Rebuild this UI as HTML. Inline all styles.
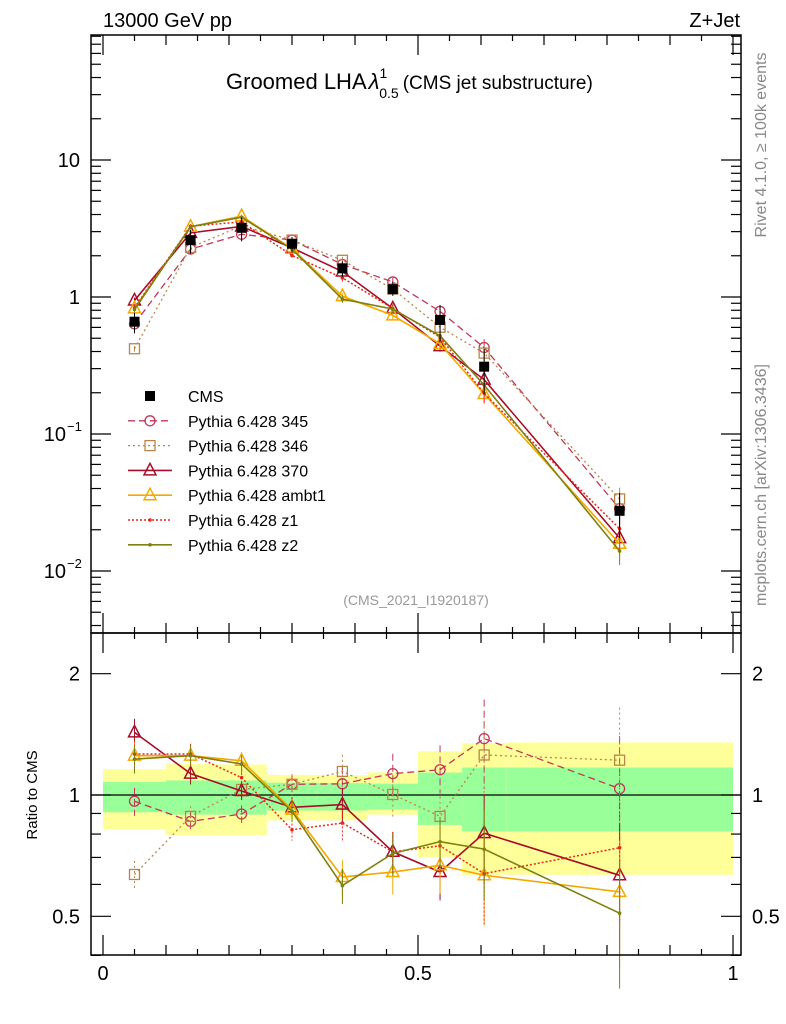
<!DOCTYPE html>
<html><head><meta charset="utf-8"><style>
html,body{margin:0;padding:0;background:#fff;}
svg{display:block;font-family:"Liberation Sans",Arial,sans-serif;}
</style></head><body>
<svg id="chart" width="786" height="1024" viewBox="0 0 786 1024" xmlns="http://www.w3.org/2000/svg">
<text x="103" y="27" font-size="20">13000 GeV pp</text>
<text x="740" y="27" font-size="20" text-anchor="end">Z+Jet</text>
<text x="226" y="89" font-size="22">Groomed LHA<tspan font-style="italic" dx="2">λ</tspan><tspan font-size="14" dy="-11">1</tspan><tspan font-size="14" dx="-8" dy="20">0.5</tspan><tspan font-size="19" dx="4" dy="-9">(CMS jet substructure)</tspan></text>
<text transform="translate(766,145) rotate(-90)" font-size="16" fill="#888" text-anchor="middle">Rivet 4.1.0, ≥ 100k events</text>
<text transform="translate(766,485) rotate(-90)" font-size="16" fill="#888" text-anchor="middle">mcplots.cern.ch [arXiv:1306.3436]</text>
<text x="416" y="605" font-size="14" fill="#999" text-anchor="middle">(CMS_2021_I1920187)</text>
<text transform="translate(37,795) rotate(-90)" font-size="15" text-anchor="middle">Ratio to CMS</text>
<g id="bands"></g><g id="grid"></g><g id="series"></g><g id="legend"></g><g id="axes"></g>
</svg>
<script>
// ---- data ----
const binEdges = [0,0.1,0.18,0.26,0.34,0.42,0.5,0.57,0.64,1.0];
const binCenters = [0.05,0.139,0.22,0.30,0.38,0.46,0.535,0.605,0.82];
const cmsValues = [0.66,2.6,3.2,2.45,1.62,1.14,0.68,0.31,0.0275];
const statUp = [1.077,1.087,1.087,1.073,1.07,1.067,1.137,1.17,1.17];
const statDown = [0.906,0.894,0.894,0.915,0.915,0.92,0.843,0.812,0.812];
const totUp = [1.16,1.193,1.19,1.122,1.12,1.137,1.284,1.345,1.35];
const totDown = [0.822,0.796,0.796,0.865,0.865,0.894,0.70,0.634,0.634];
const ratio345 = [0.965,0.86,0.897,1.063,1.066,1.13,1.155,1.38,1.037];
const ratio346 = [0.635,0.885,1.032,1.063,1.144,1.003,0.885,1.257,1.22];
const ratio370 = [1.43,1.13,1.023,0.932,0.947,0.723,0.644,0.804,0.632];
const ratioAmbt1 = [1.252,1.252,1.216,0.92,0.626,0.644,0.669,0.632,0.575];
const ratioZ1 = [1.264,1.264,1.104,0.82,0.852,0.723,0.748,0.638,0.74];
const ratioZ2 = [1.228,1.252,1.194,0.911,0.596,0.716,0.766,0.734,0.509];
const mcRelErr = [0.08,0.06,0.05,0.06,0.1,0.12,0.15,0.25,0.35];
const seriesNames = ["Pythia 6.428 345","Pythia 6.428 346","Pythia 6.428 370","Pythia 6.428 ambt1","Pythia 6.428 z1","Pythia 6.428 z2"];
const mainTicks = [10,1,0.1,0.01];
const mainTickLabels = ["10","1","10","10"];
const mainTickExp = ["","","−1","−2"];
const ratioTicks = [0.5,1,2];
const ratioTickLabels = ["0.5","1","2"];
const xTicks = [0,0.5,1];
const xTickLabels = ["0","0.5","1"];
// ---- scales ----
const L=91,R=741,T=35,MID=633,B=955;
const X=v=>103+630*v;
const Ym=v=>297-137*Math.log10(v);
const Yr=v=>795-403*Math.log10(v);
const NS="http://www.w3.org/2000/svg";
function mk(parent,tag,attrs){const e=document.createElementNS(NS,tag);for(const k in attrs)e.setAttribute(k,attrs[k]);document.getElementById(parent).appendChild(e);return e;}
// bands
for(let i=0;i<binCenters.length;i++){
  const y1=mk('bands','rect',{x:X(binEdges[i]),y:Yr(totUp[i]),width:X(binEdges[i+1])-X(binEdges[i]),height:Yr(totDown[i])-Yr(totUp[i]),fill:'#ffff99'});
  
  
  const g=mk('bands','rect',{x:X(binEdges[i]),y:Yr(statUp[i]),width:X(binEdges[i+1])-X(binEdges[i]),height:Yr(statDown[i])-Yr(statUp[i]),fill:'#99ff99'});
  
  
}
const ul=mk('bands','line',{x1:L,x2:R,y1:Yr(1),y2:Yr(1),stroke:'#000','stroke-width':1.3});


// series
const styles=[
 {r:ratio345,c:'#c0385a',d:'7,4',m:'circle',w:1.3},
 {r:ratio346,c:'#b8864b',d:'2,3',m:'square',w:1.3},
 {r:ratio370,c:'#a50f2a',d:'',m:'tri',w:1.6},
 {r:ratioAmbt1,c:'#f2a900',d:'',m:'tri',w:1.6},
 {r:ratioZ1,c:'#e8281c',d:'2,2',m:'dot',w:1.5},
 {r:ratioZ2,c:'#7f8010',d:'',m:'dot',w:1.6}];
function marker(grp,m,x,y,c,name){
  let e;
  if(m==='circle') e=mk(grp,'circle',{cx:x,cy:y,r:5,fill:'none',stroke:c,'stroke-width':1.3});
  else if(m==='square') e=mk(grp,'rect',{x:x-5,y:y-5,width:10,height:10,fill:'none',stroke:c,'stroke-width':1.3});
  else if(m==='tri') e=mk(grp,'polygon',{points:`${x},${y-7} ${x-6},${y+4.5} ${x+6},${y+4.5}`,fill:'none',stroke:c,'stroke-width':1.5});
  else e=mk(grp,'circle',{cx:x,cy:y,r:1.8,fill:c});
  
  
}
styles.forEach((s,si)=>{
  const mainPts=[],ratPts=[];
  s.r.forEach((r,i)=>{mainPts.push(X(binCenters[i])+','+Ym(cmsValues[i]*r));ratPts.push(X(binCenters[i])+','+Yr(r));});
  const pl=mk('series','polyline',{points:mainPts.join(' '),fill:'none',stroke:s.c,'stroke-width':s.w,'stroke-dasharray':s.d});
  
  
  const rl=mk('series','polyline',{points:ratPts.join(' '),fill:'none',stroke:s.c,'stroke-width':s.w,'stroke-dasharray':s.d});
  
  
  s.r.forEach((r,i)=>{
    const x=X(binCenters[i]);const e=mcRelErr[i];
    const eb=mk('series','line',{x1:x,x2:x,y1:Yr(r*(1+e)),y2:Yr(r*(1-e)),stroke:s.c,'stroke-width':1,'stroke-dasharray':s.d});
    
    
    const em=mk('series','line',{x1:x,x2:x,y1:Ym(cmsValues[i]*r*(1+e*0.6)),y2:Ym(cmsValues[i]*r*(1-e*0.6)),stroke:s.c,'stroke-width':1});
    
    
    marker('series',s.m,x,Ym(cmsValues[i]*r),s.c,'main-marker');
    marker('series',s.m,x,Yr(r),s.c,'ratio-marker');
  });
});
// CMS data
cmsValues.forEach((v,i)=>{
  const x=X(binCenters[i]);
  const eb=mk('series','line',{x1:x,x2:x,y1:Ym(v*totUp[i]),y2:Ym(v*totDown[i]),stroke:'#000','stroke-width':1});
  
  
  const p=mk('series','rect',{x:x-5,y:Ym(v)-5,width:10,height:10,fill:'#000'});
  
  
});
// legend
const ly0=396,ldy=24.8;
const cmsL=mk('legend','rect',{x:145,y:ly0-5,width:10,height:10,fill:'#000'});


const cmsT=mk('legend','text',{x:188,y:ly0+6,'font-size':16});cmsT.textContent='CMS';


styles.forEach((s,si)=>{
  const y=ly0+ldy*(si+1);
  const ln=mk('legend','line',{x1:128,x2:172,y1:y,y2:y,stroke:s.c,'stroke-width':s.w,'stroke-dasharray':s.d});
  
  
  marker('legend',s.m,150,y,s.c,'legend-marker');
  const t=mk('legend','text',{x:188,y:y+6,'font-size':16});t.textContent=seriesNames[si];
  
  
});
// axes frames
[[T,MID],[MID,B]].forEach(([a,b],k)=>{
  const f=mk('axes','rect',{x:L,y:a,width:R-L,height:b-a,fill:'none',stroke:'#000','stroke-width':1.5});
  
  
});
function tick(x1,y1,x2,y2){const t=mk('axes','line',{x1,y1,x2,y2,stroke:'#000','stroke-width':1.2});}
// x ticks
for(let k=0;k<=20;k++){const v=k*0.05,x=X(v);const len=(k%10===0)?20:(k%2===0?10:6);
  [[T,1],[MID,1],[MID,-1],[B,-1]].forEach(([y,d])=>{tick(x,y,x,y+d*len);});}
xTicks.forEach((v,i)=>{const t=mk('axes','text',{x:X(v),y:980,'font-size':20,'text-anchor':'middle'});t.textContent=xTickLabels[i];
  
  });
// main y ticks
for(let e=-3;e<=1;e++)for(let m=1;m<=9;m++){const v=m*Math.pow(10,e),y=Ym(v);if(y<T||y>MID)continue;const len=m===1?20:10;tick(L,y,L+len,y);tick(R,y,R-len,y);}
mainTicks.forEach((v,i)=>{const t=mk('axes','text',{x:mainTickExp[i]?66:80,y:Ym(v)+7,'font-size':20,'text-anchor':'end'});t.textContent=mainTickLabels[i];
  
  
  if(mainTickExp[i]){const s=mk('axes','text',{x:67,y:Ym(v)-3,'font-size':13});s.textContent=mainTickExp[i];
    
    }});
// ratio y ticks
[0.4,0.5,0.6,0.7,0.8,0.9,1,2].forEach(v=>{const y=Yr(v);const len=(v===0.5||v===1||v===2)?20:10;tick(L,y,L+len,y);tick(R,y,R-len,y);});
ratioTicks.forEach((v,i)=>{[[80,'end'],[752,'start']].forEach(([x,a])=>{const t=mk('axes','text',{x,y:Yr(v)+7,'font-size':20,'text-anchor':a});t.textContent=ratioTickLabels[i];
  
  });});
</script>
</body></html>
